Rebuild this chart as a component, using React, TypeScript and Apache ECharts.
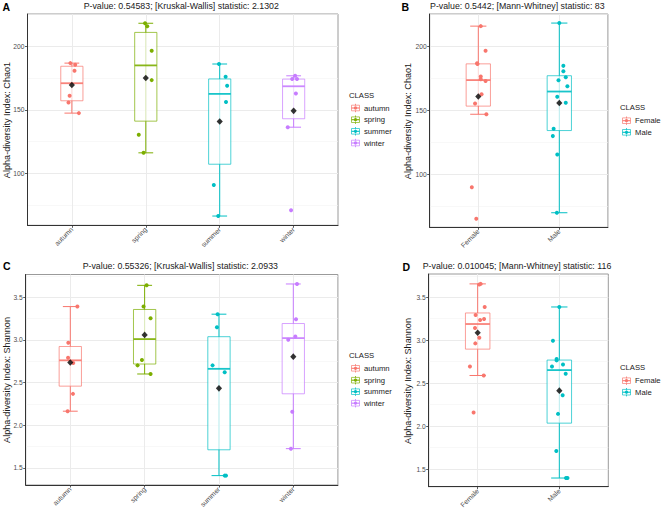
import React, { useEffect, useRef } from 'react';
import * as echarts from 'echarts';

// ---------- categories & colours ----------
const seasons = ['autumn', 'spring', 'summer', 'winter'];
const sexes = ['Female', 'Male'];
const seasonColors = ['#F8766D', '#7CAE00', '#00BFC4', '#C77CFF'];
const sexColors = ['#F8766D', '#00BFC4'];

// ---------- Chao1 values ----------
const chaoAutumn = [186.8, 185.5, 180.8, 161.1, 155.8, 147.4];
const chaoSpring = [218.2, 215.8, 196.6, 173.4, 130.3, 116.1];
const chaoSummer = [186.1, 176.1, 169.0, 156.1, 90.8, 66.3];
const chaoWinter = [176.8, 174.2, 174.2, 162.9, 136.3, 70.8];
const chaoFemale = [215.8, 196.6, 186.1, 186.8, 176.3, 172.9, 174.2, 162.4, 155.3, 146.8, 89.7, 65.0];
const chaoMale = [218.2, 184.7, 180.5, 175.8, 173.4, 168.7, 160.5, 155.8, 135.5, 129.7, 115.3, 69.7];

// horizontal jitter (category units)
const jitChaoAutumn = [-0.02, 0.045, 0.036, -0.03, -0.045, 0.095];
const jitChaoSpring = [-0.01, 0.02, 0.08, 0.08, -0.095, -0.03];
const jitChaoSummer = [-0.01, 0.08, 0.1, 0.085, -0.08, -0.02];
const jitChaoWinter = [0.02, -0.02, 0.045, 0.03, -0.08, -0.035];
const jitChaoFemale = [0.03, 0.09, -0.01, -0.015, 0.03, 0.09, 0.03, 0.04, -0.04, 0.1, -0.08, -0.025];
const jitChaoMale = [0, 0.05, 0.05, 0.08, -0.01, 0.1, -0.025, 0.08, -0.07, -0.08, -0.025, -0.03];

// ---------- Shannon values ----------
const shanAutumn = [3.391, 2.967, 2.792, 2.73, 2.368, 2.165];
const shanSpring = [3.64, 3.391, 3.255, 2.765, 2.702, 2.601];
const shanSummer = [3.302, 3.15, 2.702, 2.621, 1.41, 1.41];
const shanWinter = [3.656, 3.243, 3.041, 3.002, 2.158, 1.726];
const shanFemale = [3.656, 3.648, 3.387, 3.294, 3.235, 3.247, 3.142, 3.029, 2.963, 2.695, 2.589, 2.158];
const shanMale = [3.387, 2.994, 2.78, 2.765, 2.695, 2.718, 2.609, 2.36, 2.142, 1.71, 1.395, 1.395];

const jitShanAutumn = [0.095, -0.027, -0.03, 0.04, 0.036, -0.036];
const jitShanSpring = [0.027, -0.014, 0.08, -0.036, -0.095, 0.08];
const jitShanSummer = [-0.018, -0.027, -0.086, 0.077, 0.077, 0.095];
const jitShanWinter = [0.05, 0.036, 0.027, -0.068, -0.014, -0.032];
const jitShanFemale = [0.037, 0.02, 0.086, -0.025, 0.03, 0.078, -0.033, 0.02, -0.029, -0.095, 0.074, -0.05];
const jitShanMale = [0, -0.078, -0.033, -0.033, -0.09, 0.045, 0.078, 0.041, -0.016, -0.037, 0.082, 0.1];

// ---------- titles & ticks ----------
const titleA = 'P-value: 0.54583; [Kruskal-Wallis] statistic: 2.1302';
const titleB = 'P-value: 0.5442; [Mann-Whitney] statistic: 83';
const titleC = 'P-value: 0.55326; [Kruskal-Wallis] statistic: 2.0933';
const titleD = 'P-value: 0.010045; [Mann-Whitney] statistic: 116';
const chaoTicks = [100, 150, 200];
const shanTicks = [1.5, 2.0, 2.5, 3.0, 3.5];
const yLabChao = 'Alpha-diversity Index: Chao1';
const yLabShan = 'Alpha-diversity Index: Shannon';
const legendTitle = 'CLASS';

const FONT = '"Liberation Sans", Arial, Helvetica, sans-serif';

function q7(s: number[], p: number) {
  const h = (s.length - 1) * p;
  const lo = Math.floor(h);
  const hi = Math.ceil(h);
  return s[lo] + (h - lo) * (s[hi] - s[lo]);
}
function boxStats(vals: number[]) {
  const s = [...vals].sort((a, b) => a - b);
  const q1 = q7(s, 0.25);
  const med = q7(s, 0.5);
  const q3 = q7(s, 0.75);
  const iqr = q3 - q1;
  const inside = s.filter((v) => v >= q1 - 1.5 * iqr - 1e-9 && v <= q3 + 1.5 * iqr + 1e-9);
  const mean = s.reduce((a, b) => a + b, 0) / s.length;
  return { lo: Math.min(...inside), q1, med, q3, hi: Math.max(...inside), mean };
}
function rgba(hex: string, a: number) {
  const n = parseInt(hex.slice(1), 16);
  return `rgba(${(n >> 16) & 255},${(n >> 8) & 255},${n & 255},${a})`;
}

type Panel = {
  letter: string;
  title: string;
  ylab: string;
  classes: string[];
  colors: string[];
  values: number[][];
  jitter: number[][];
  grid: { left: number; top: number; width: number; height: number };
  yMin: number;
  yMax: number;
  step: number;
  ticks: number[];
  digits: number;
  letterPos: [number, number];
  ylabPos: [number, number];
  legend: { x: number; titleY: number; itemY: number[] };
};

const panels: Panel[] = [
  {
    letter: 'A', title: titleA, ylab: yLabChao, classes: seasons, colors: seasonColors,
    values: [chaoAutumn, chaoSpring, chaoSummer, chaoWinter],
    jitter: [jitChaoAutumn, jitChaoSpring, jitChaoSummer, jitChaoWinter],
    grid: { left: 27.5, top: 14, width: 310.5, height: 211.3 },
    yMin: 59, yMax: 225.5, step: 50, ticks: chaoTicks, digits: 0,
    letterPos: [2.5, 6.5], ylabPos: [6.5, 120],
    legend: { x: 349, titleY: 95, itemY: [108, 119.7, 131.3, 143] },
  },
  {
    letter: 'B', title: titleB, ylab: yLabChao, classes: sexes, colors: sexColors,
    values: [chaoFemale, chaoMale],
    jitter: [jitChaoFemale, jitChaoMale],
    grid: { left: 429.7, top: 14, width: 178.2, height: 213.3 },
    yMin: 58.3, yMax: 225.3, step: 50, ticks: chaoTicks, digits: 0,
    letterPos: [401.5, 6.5], ylabPos: [407.5, 121],
    legend: { x: 620, titleY: 107.3, itemY: [120.7, 132.3] },
  },
  {
    letter: 'C', title: titleC, ylab: yLabShan, classes: seasons, colors: seasonColors,
    values: [shanAutumn, shanSpring, shanSummer, shanWinter],
    jitter: [jitShanAutumn, jitShanSpring, jitShanSummer, jitShanWinter],
    grid: { left: 25.7, top: 274.5, width: 312.2, height: 210.5 },
    yMin: 1.3, yMax: 3.767, step: 0.5, ticks: shanTicks, digits: 1,
    letterPos: [3, 266.3], ylabPos: [6.7, 380],
    legend: { x: 349, titleY: 355, itemY: [368.3, 380.2, 391.7, 403.2] },
  },
  {
    letter: 'D', title: titleD, ylab: yLabShan, classes: sexes, colors: sexColors,
    values: [shanFemale, shanMale],
    jitter: [jitShanFemale, jitShanMale],
    grid: { left: 428.7, top: 274, width: 179.6, height: 212.7 },
    yMin: 1.294, yMax: 3.771, step: 0.5, ticks: shanTicks, digits: 1,
    letterPos: [402.5, 266.8], ylabPos: [408, 381],
    legend: { x: 620, titleY: 367.7, itemY: [380.7, 392.2] },
  },
];

function buildOption() {
  const grids: any[] = [];
  const xAxes: any[] = [];
  const yAxes: any[] = [];
  const series: any[] = [];
  const graphics: any[] = [];

  panels.forEach((p, i) => {
    const n = p.classes.length;
    const catTicks = p.classes.map((_, k) => k + 1);
    const stats = p.values.map(boxStats);

    grids.push({ ...p.grid, show: true, borderColor: '#9a9a9a', borderWidth: 1, backgroundColor: 'transparent' });

    xAxes.push({
      gridIndex: i, type: 'value', min: 0.4, max: n + 0.6, minInterval: 1, maxInterval: 1,
      axisLine: { show: true, onZero: false, lineStyle: { color: '#333', width: 1 } },
      axisTick: { show: true, length: 2.5, customValues: catTicks, lineStyle: { color: '#333', width: 0.8 } },
      axisLabel: {
        customValues: catTicks, rotate: 45, margin: 3, fontSize: 6.9, color: '#4d4d4d', fontFamily: FONT,
        formatter: (v: number) => (Number.isInteger(v) && p.classes[v - 1] ? p.classes[v - 1] : ''),
      },
      splitLine: { show: true, lineStyle: { color: '#ebebeb', width: 1 } },
    });

    yAxes.push({
      gridIndex: i, type: 'value', min: p.yMin, max: p.yMax, minInterval: p.step, maxInterval: p.step,
      axisLine: { show: true, onZero: false, lineStyle: { color: '#333', width: 1 } },
      axisTick: { show: true, length: 2.5, customValues: p.ticks, lineStyle: { color: '#333', width: 0.8 } },
      axisLabel: {
        customValues: p.ticks, margin: 3, fontSize: 6.7, color: '#4d4d4d', fontFamily: FONT,
        formatter: (v: number) => v.toFixed(p.digits),
      },
      splitLine: { show: true, lineStyle: { color: '#ebebeb', width: 1 } },
      minorTick: { show: false, splitNumber: 2 },
      minorSplitLine: { show: true, lineStyle: { color: '#f3f3f3', width: 0.6 } },
    });

    const colors = p.colors;
    series.push({
      type: 'custom', xAxisIndex: i, yAxisIndex: i, silent: true, z: 2,
      data: stats.map((s, k) => [k + 1, s.lo, s.q1, s.med, s.q3, s.hi, k]),
      encode: { x: 0, y: [1, 2, 3, 4, 5] },
      renderItem: (_params: any, api: any) => {
        const x = api.value(0);
        const c = colors[api.value(6)];
        const pLo = api.coord([x, api.value(1)]);
        const pQ1 = api.coord([x, api.value(2)]);
        const pMed = api.coord([x, api.value(3)]);
        const pQ3 = api.coord([x, api.value(4)]);
        const pHi = api.coord([x, api.value(5)]);
        const bw = api.size([0.3, 0])[0];
        const cw = api.size([0.2, 0])[0];
        const cx = pLo[0];
        return {
          type: 'group',
          children: [
            { type: 'line', shape: { x1: cx, y1: pLo[1], x2: cx, y2: pHi[1] }, style: { stroke: c, lineWidth: 1 } },
            { type: 'line', shape: { x1: cx - cw / 2, y1: pLo[1], x2: cx + cw / 2, y2: pLo[1] }, style: { stroke: c, lineWidth: 1 } },
            { type: 'line', shape: { x1: cx - cw / 2, y1: pHi[1], x2: cx + cw / 2, y2: pHi[1] }, style: { stroke: c, lineWidth: 1 } },
            {
              type: 'rect',
              shape: { x: cx - bw / 2, y: pQ3[1], width: bw, height: pQ1[1] - pQ3[1] },
              style: { fill: 'rgba(255,255,255,0.72)', stroke: rgba(c, 0.7), lineWidth: 1 },
            },
            { type: 'line', shape: { x1: cx - bw / 2, y1: pMed[1], x2: cx + bw / 2, y2: pMed[1] }, style: { stroke: rgba(c, 0.9), lineWidth: 1.8 } },
          ],
        };
      },
    });

    p.values.forEach((vals, k) => {
      series.push({
        type: 'scatter', xAxisIndex: i, yAxisIndex: i, z: 3, silent: true,
        symbolSize: 4,
        itemStyle: { color: p.colors[k], opacity: 1 },
        data: vals.map((v, j) => [k + 1 + p.jitter[k][j], v]),
      });
    });
    series.push({
      type: 'scatter', xAxisIndex: i, yAxisIndex: i, z: 4, silent: true,
      symbol: 'diamond', symbolSize: [6.2, 6.6],
      itemStyle: { color: '#000' },
      data: stats.map((s, k) => [k + 1, s.mean]),
    });

    // texts
    const g = p.grid;
    graphics.push({
      type: 'text', x: p.letterPos[0], y: p.letterPos[1],
      style: { text: p.letter, fontSize: 10.5, fontWeight: 'bold', fontFamily: FONT, fill: '#000', align: 'left', verticalAlign: 'middle' },
    });
    graphics.push({
      type: 'text', x: g.left + g.width / 2 - 1.5, y: p.letterPos[1] - 0.8,
      style: { text: p.title, fontSize: 8.8, fontFamily: FONT, fill: '#1a1a1a', align: 'center', verticalAlign: 'middle' },
    });
    graphics.push({
      type: 'text', x: p.ylabPos[0], y: p.ylabPos[1], rotation: Math.PI / 2,
      style: { text: p.ylab, fontSize: 9.1, fontFamily: FONT, fill: '#1a1a1a', align: 'center', verticalAlign: 'middle' },
    });

    // legend
    const L = p.legend;
    graphics.push({
      type: 'text', x: L.x, y: L.titleY,
      style: { text: legendTitle, fontSize: 7.7, fontFamily: FONT, fill: '#1a1a1a', align: 'left', verticalAlign: 'middle' },
    });
    p.classes.forEach((name, k) => {
      const c = p.colors[k];
      const cx = L.x + 6.5;
      const cy = L.itemY[k];
      graphics.push({
        type: 'group',
        children: [
          { type: 'line', shape: { x1: cx, y1: cy - 4.2, x2: cx, y2: cy + 4.2 }, style: { stroke: c, lineWidth: 0.8 } },
          { type: 'rect', shape: { x: cx - 4, y: cy - 2.8, width: 8, height: 5.6 }, style: { fill: 'rgba(255,255,255,0.6)', stroke: rgba(c, 0.75), lineWidth: 0.9 } },
          { type: 'line', shape: { x1: cx - 4, y1: cy, x2: cx + 4, y2: cy }, style: { stroke: c, lineWidth: 1.1 } },
          { type: 'circle', shape: { cx, cy, r: 1.6 }, style: { fill: c } },
        ],
      });
      graphics.push({
        type: 'text', x: L.x + 15, y: cy,
        style: { text: name, fontSize: 7.7, fontFamily: FONT, fill: '#1a1a1a', align: 'left', verticalAlign: 'middle' },
      });
    });
  });

  return {
    animation: false,
    backgroundColor: '#ffffff',
    textStyle: { fontFamily: FONT },
    grid: grids,
    xAxis: xAxes,
    yAxis: yAxes,
    series,
    graphic: graphics,
  };
}

export default function App() {
  const ref = useRef<HTMLDivElement | null>(null);
  useEffect(() => {
    if (!ref.current) return;
    const chart = echarts.init(ref.current, undefined, { renderer: 'svg' });
    chart.setOption(buildOption() as any);
    return () => chart.dispose();
  }, []);
  return (
    <div
      ref={ref}
      style={{ position: 'absolute', left: 0, top: 0, width: 661, height: 513, background: '#fff' }}
    />
  );
}
